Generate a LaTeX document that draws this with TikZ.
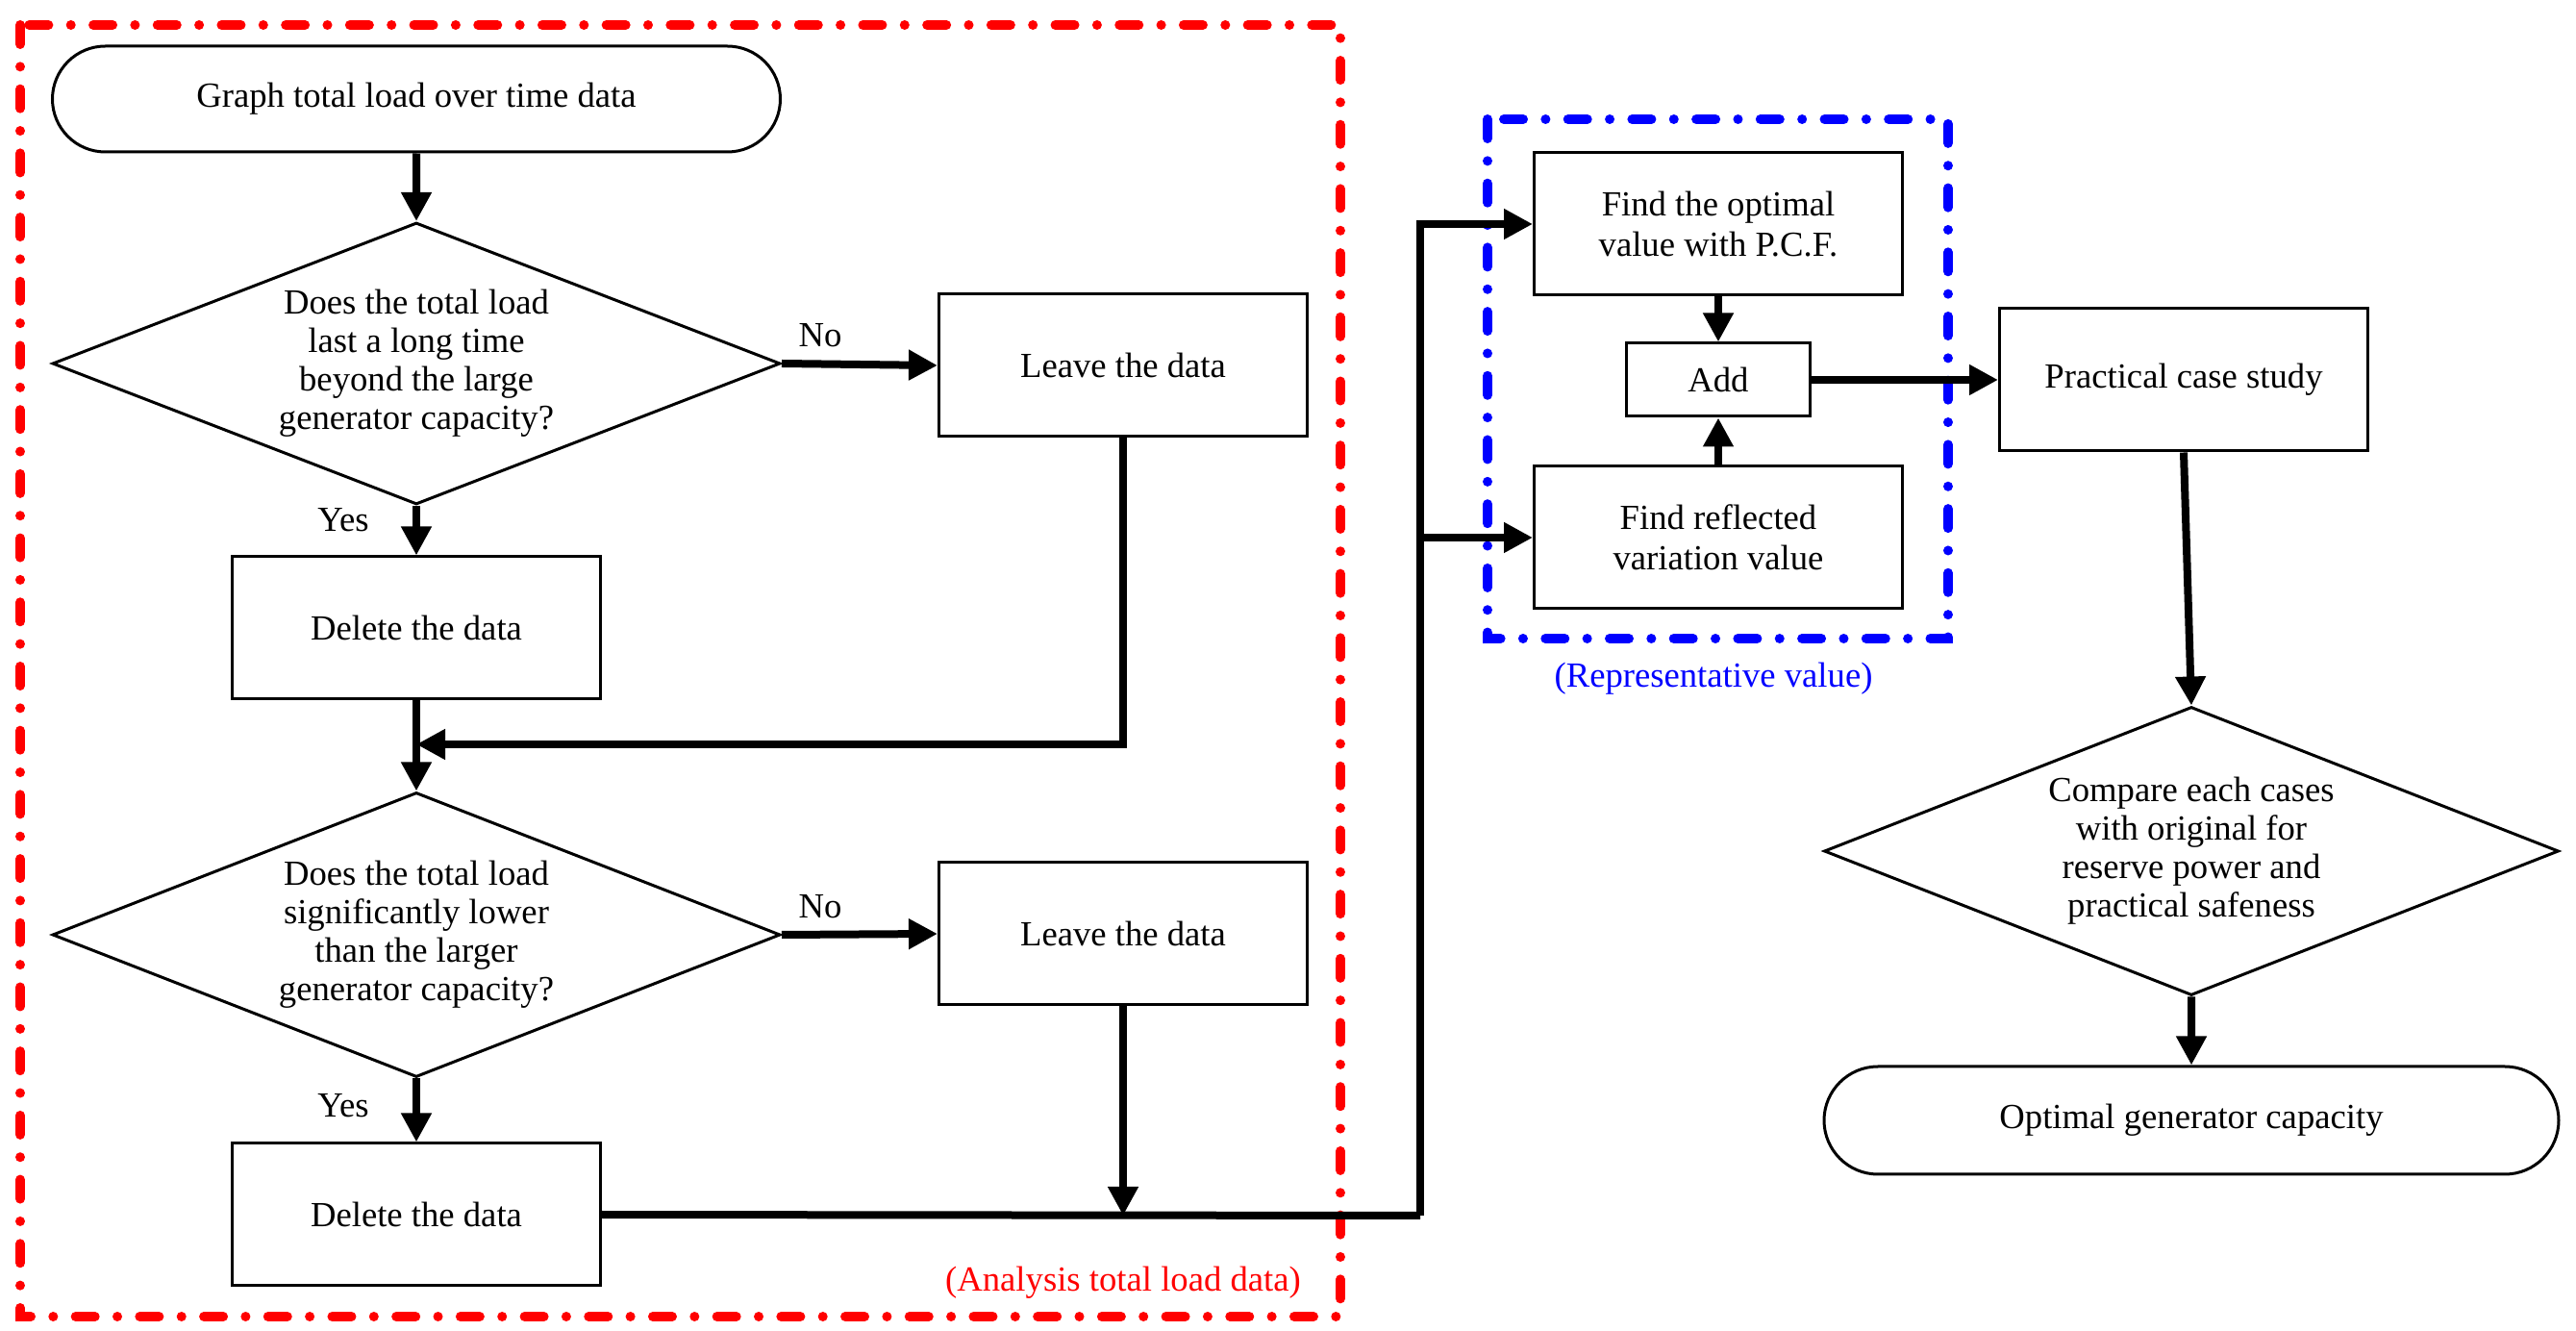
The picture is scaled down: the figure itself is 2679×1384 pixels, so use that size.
\documentclass[tikz,border=0pt]{standalone}
\usepackage{fontspec}
\setmainfont{Liberation Serif}
\usetikzlibrary{shapes.geometric,shapes.misc,arrows.meta}
\begin{document}
\begin{tikzpicture}[x=0.3pt,y=-0.3pt,
  box/.style={draw,line width=0.9pt,minimum width=383*0.3pt,minimum height=148*0.3pt,align=center,font=\fontsize{11}{12.5}\selectfont,inner sep=0pt},
  term/.style={box,rounded rectangle},
  dia/.style={draw,line width=0.9pt,diamond,aspect=2.6,align=center,font=\fontsize{11}{12}\selectfont,inner sep=0pt},
  arr/.style={line width=2.4pt,-{Triangle[length=9pt,width=9pt]}},
  ln/.style={line width=2.4pt},
  lbl/.style={font=\fontsize{11}{12}\selectfont},
  grp/.style={line width=3pt,line cap=round,dash pattern=on 6pt off 7pt on 0.01pt off 7pt}]
\useasboundingbox (0,0) rectangle (2679,1384);
\draw[grp,red] (21,26) rectangle (1394,1369);
\draw[grp,blue] (1547,124) rectangle (2026,664);
\node[term,minimum width=757*0.3pt,minimum height=110*0.3pt] (start) at (433,103) {Graph total load over time data};
\node[dia,minimum width=757*0.3pt,minimum height=293*0.3pt] (d1) at (433,378) {Does the total load\\last a long time\\beyond the large\\generator capacity?};
\node[box] (l1) at (1168,380) {Leave the data};
\node[box] (del1) at (433,653) {Delete the data};
\coordinate (m1) at (433,774);
\node[dia,minimum width=757*0.3pt,minimum height=296*0.3pt] (d2) at (433,972) {Does the total load\\significantly lower\\than the larger\\generator capacity?};
\node[box] (l2) at (1168,971) {Leave the data};
\node[box] (del2) at (433,1263) {Delete the data};
\coordinate (m2) at (1168,1264);
\coordinate (j) at (1477,1264);
\node[box] (fo) at (1787,233) {Find the optimal\\value with P.C.F.};
\node[box,minimum width=191*0.3pt,minimum height=76*0.3pt] (add) at (1787,395) {Add};
\node[box] (fr) at (1787,559) {Find reflected\\variation value};
\node[box] (pc) at (2271,395) {Practical case study};
\node[dia,minimum width=764*0.3pt,minimum height=300*0.3pt,aspect=2.55] (d3) at (2279,885) {Compare each cases\\with original for\\reserve power and\\practical safeness};
\node[term,minimum width=764*0.3pt,minimum height=112*0.3pt] (end) at (2279,1165) {Optimal generator capacity};
\draw[arr] (start) -- (d1);
\draw[arr] (d1.east) -- (l1.west);
\draw[arr] (d1.south) -- (del1.north);
\draw[ln] (del1.south) -- (m1);
\draw[arr] (l1.south) |- (m1);
\draw[arr] (m1) -- (d2.north);
\draw[arr] (d2.east) -- (l2.west);
\draw[arr] (d2.south) -- (del2.north);
\draw[arr] (l2.south) -- (m2);
\draw[ln] (del2.east) -- (j);
\draw[arr] (j) |- (fo.west);
\draw[arr] (j |- fr.west) -- (fr.west);
\draw[arr] (fo) -- (add);
\draw[arr] (fr) -- (add);
\draw[arr] (add) -- (pc);
\draw[arr] (pc.south) -- (d3.north);
\draw[arr] (d3) -- (end);
\node[lbl] (no1) at (853,349) {No};
\node[lbl] (no2) at (853,943) {No};
\node[lbl] (y1) at (357,541) {Yes};
\node[lbl] (y2) at (357,1150) {Yes};
\node[lbl,text=blue] (rv) at (1782,706) {(Representative value)};
\node[lbl,text=red] (an) at (1168,1334) {(Analysis total load data)};
\end{tikzpicture}
\end{document}
